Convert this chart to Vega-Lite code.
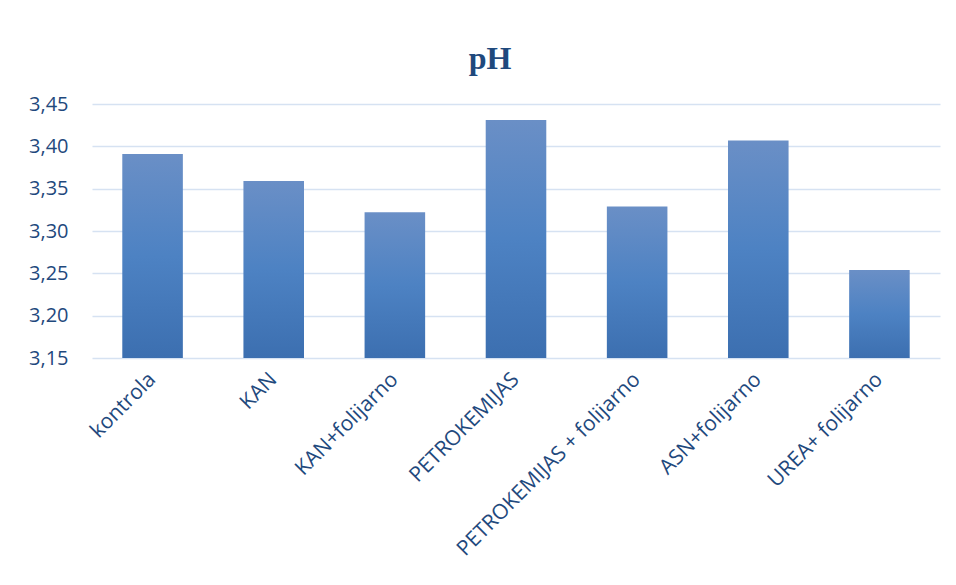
{
  "$schema": "https://vega.github.io/schema/vega-lite/v6.json",
  "width": 848,
  "height": 254,
  "autosize": {"type": "none"},
  "padding": {"left": 92, "top": 104, "right": 16, "bottom": 227},
  "background": "white",
  "title": {
    "text": "pH",
    "font": "Liberation Serif",
    "fontSize": 32,
    "fontWeight": "bold",
    "color": "#1F497D",
    "anchor": "middle",
    "dx": -26,
    "offset": 18
  },
  "data": {
    "values": [
      {"treatment": "kontrola", "pH": 3.391},
      {"treatment": "KAN", "pH": 3.359},
      {"treatment": "KAN+folijarno", "pH": 3.322},
      {"treatment": "PETROKEMIJAS", "pH": 3.431},
      {"treatment": "PETROKEMIJAS + folijarno", "pH": 3.329},
      {"treatment": "ASN+folijarno", "pH": 3.407},
      {"treatment": "UREA+ folijarno", "pH": 3.254}
    ]
  },
  "mark": {
    "type": "bar",
    "clip": true,
    "fill": {
      "gradient": "linear",
      "x1": 0, "y1": 0, "x2": 0, "y2": 1,
      "stops": [
        {"offset": 0, "color": "#6A8FC6"},
        {"offset": 0.5, "color": "#4D82C3"},
        {"offset": 1, "color": "#3C6FB0"}
      ]
    },
    "fillOpacity": 1
  },
  "encoding": {
    "x": {
      "field": "treatment",
      "type": "nominal",
      "sort": null,
      "scale": {"paddingInner": 0.5, "paddingOuter": 0.25},
      "axis": {
        "title": null,
        "labelAngle": -45,
        "labelAlign": "right",
        "labelBaseline": "middle",
        "labelFont": "Open Sans",
        "labelFontSize": 21,
        "labelColor": "#1F497D",
        "labelPadding": 18,
        "ticks": false,
        "domain": false,
        "labelLimit": 400
      }
    },
    "y": {
      "field": "pH",
      "type": "quantitative",
      "scale": {"domain": [3.15, 3.45], "zero": false, "nice": false},
      "axis": {
        "title": null,
        "values": [3.15, 3.2, 3.25, 3.3, 3.35, 3.4, 3.45],
        "labelExpr": "replace(format(datum.value, '.2f'), '.', ',')",
        "labelFont": "Open Sans",
        "labelFontSize": 20,
        "labelColor": "#1F497D",
        "labelPadding": 24,
        "ticks": false,
        "domain": false,
        "grid": true,
        "gridColor": "#D6E2F2",
        "gridWidth": 1.5
      }
    },
    "y2": {"datum": 3.15}
  },
  "config": {
    "view": {"stroke": null}
  }
}
